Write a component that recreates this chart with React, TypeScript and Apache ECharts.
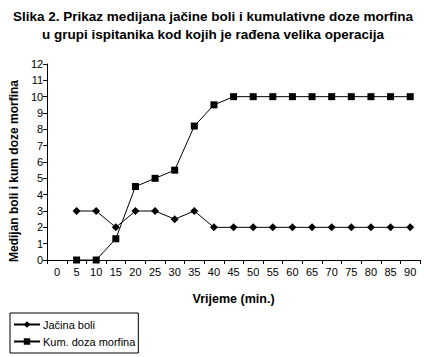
import React, { useEffect, useRef } from "react";
import * as echarts from "echarts";

const categories = ["0", "5", "10", "15", "20", "25", "30", "35", "40", "45", "50", "55", "60", "65", "70", "75", "80", "85", "90"];
const jacinaBoli: (number | null)[] = [null, 3, 3, 2, 3, 3, 2.5, 3, 2, 2, 2, 2, 2, 2, 2, 2, 2, 2, 2];
const kumDozaMorfina: (number | null)[] = [null, 0, 0, 1.3, 4.5, 5, 5.5, 8.2, 9.5, 10, 10, 10, 10, 10, 10, 10, 10, 10, 10];
const seriesNames = ["Jačina boli", "Kum. doza morfina"];

export default function App() {
  const ref = useRef<HTMLDivElement>(null);
  useEffect(() => {
    if (!ref.current) return;
    const chart = echarts.init(ref.current, null, { renderer: "svg" });
    const font = "Liberation Sans, Arial, sans-serif";
    chart.setOption({
      animation: false,
      backgroundColor: "#ffffff",
      textStyle: { fontFamily: font, color: "#000" },
      title: {
        text: "Slika 2. Prikaz medijana jačine boli i kumulativne doze morfina\nu grupi ispitanika kod kojih je rađena velika operacija",
        left: 208,
        top: 2,
        textAlign: "center",
        textStyle: { fontSize: 13.5, fontWeight: "bold", color: "#000", lineHeight: 18, fontFamily: font },
      },
      legend: {
        orient: "vertical",
        left: 10,
        top: 313,
        padding: [6, 3, 6, 3],
        itemGap: 6,
        itemWidth: 26,
        itemHeight: 8,
        borderColor: "#000",
        borderWidth: 1,
        borderRadius: 0,
        textStyle: { fontSize: 11, color: "#000", fontFamily: font, padding: [0, 0, 0, -2] },
        data: seriesNames,
      },
      grid: { left: 36, right: 4, top: 64, bottom: 97, containLabel: false },
      xAxis: {
        type: "category",
        data: categories,
        boundaryGap: true,
        name: "Vrijeme (min.)",
        nameLocation: "middle",
        nameGap: 32,
        nameTextStyle: { fontSize: 12.5, fontWeight: "bold", color: "#000", fontFamily: font },
        axisLine: { lineStyle: { color: "#000", width: 1 } },
        axisTick: { show: true, alignWithLabel: false, length: 4, lineStyle: { color: "#000" } },
        axisLabel: { fontSize: 11, color: "#000", margin: 6, interval: 0, fontFamily: font },
        splitLine: { show: false },
      },
      yAxis: {
        type: "value",
        min: 0,
        max: 12,
        interval: 1,
        name: "Medijan boli i kum doze morfina",
        nameLocation: "middle",
        nameGap: 22,
        nameTextStyle: { fontSize: 12, fontWeight: "bold", color: "#000", fontFamily: font, padding: [0, 18, 0, 0] },
        axisLine: { show: true, lineStyle: { color: "#000", width: 1 } },
        axisTick: { show: true, length: 4, lineStyle: { color: "#000" } },
        axisLabel: { fontSize: 11, color: "#000", margin: 4, fontFamily: font },
        splitLine: { show: false },
      },
      series: [
        {
          name: seriesNames[0],
          type: "line",
          data: jacinaBoli,
          symbol: "diamond",
          symbolSize: 8,
          showAllSymbol: true,
          itemStyle: { color: "#000" },
          lineStyle: { color: "#000", width: 1 },
        },
        {
          name: seriesNames[1],
          type: "line",
          data: kumDozaMorfina,
          symbol: "rect",
          symbolSize: 7,
          showAllSymbol: true,
          itemStyle: { color: "#000" },
          lineStyle: { color: "#000", width: 1 },
        },
      ],
    });
    return () => chart.dispose();
  }, []);
  return <div ref={ref} style={{ position: "absolute", left: 0, top: 0, width: 424, height: 357 }} />;
}
